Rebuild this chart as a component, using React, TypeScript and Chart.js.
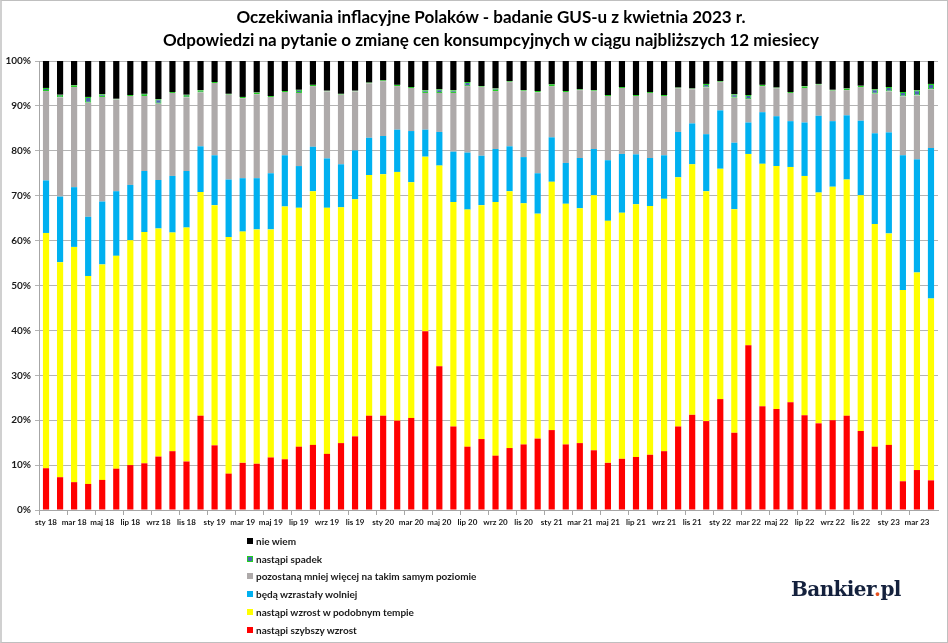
import React, { useEffect, useRef } from 'react';
import { Chart, registerables } from 'chart.js';

Chart.register(...registerables);

// kategorie: miesiące sty 18 - kwi 23
const months = [
  'sty 18', 'lut 18', 'mar 18', 'kwi 18', 'maj 18', 'cze 18', 'lip 18', 'sie 18', 'wrz 18', 'paź 18', 'lis 18', 'gru 18',
  'sty 19', 'lut 19', 'mar 19', 'kwi 19', 'maj 19', 'cze 19', 'lip 19', 'sie 19', 'wrz 19', 'paź 19', 'lis 19', 'gru 19',
  'sty 20', 'lut 20', 'mar 20', 'kwi 20', 'maj 20', 'cze 20', 'lip 20', 'sie 20', 'wrz 20', 'paź 20', 'lis 20', 'gru 20',
  'sty 21', 'lut 21', 'mar 21', 'kwi 21', 'maj 21', 'cze 21', 'lip 21', 'sie 21', 'wrz 21', 'paź 21', 'lis 21', 'gru 21',
  'sty 22', 'lut 22', 'mar 22', 'kwi 22', 'maj 22', 'cze 22', 'lip 22', 'sie 22', 'wrz 22', 'paź 22', 'lis 22', 'gru 22',
  'sty 23', 'lut 23', 'mar 23', 'kwi 23'
];

const szybszyWzrost = [
  9.3, 7.3, 6.2, 5.8, 6.7, 9.2, 10.0, 10.4, 11.9, 13.1, 10.8, 21.0,
  14.4, 8.1, 10.5, 10.3, 11.7, 11.3, 14.1, 14.5, 12.5, 14.9, 16.4, 21.0,
  21.0, 19.9, 20.5, 39.8, 32.0, 18.6, 14.1, 15.8, 12.1, 13.8, 14.6, 15.9,
  17.8, 14.6, 14.9, 13.3, 10.5, 11.4, 11.8, 12.3, 13.1, 18.6, 21.2, 19.8,
  24.7, 17.2, 36.7, 23.1, 22.5, 24.0, 21.1, 19.3, 20.0, 21.0, 17.6, 14.1,
  14.5, 6.4, 8.9, 6.6
];

const podobnyWzrost = [
  52.4, 47.9, 52.4, 46.3, 48.0, 47.4, 50.1, 51.5, 50.8, 48.7, 52.1, 49.8,
  53.5, 52.7, 51.5, 52.2, 50.8, 56.3, 53.2, 56.5, 54.8, 52.5, 52.8, 53.6,
  53.8, 55.4, 52.5, 38.9, 44.7, 50.0, 52.8, 52.1, 56.5, 57.2, 53.7, 50.1,
  55.3, 53.6, 52.3, 56.8, 53.9, 54.8, 56.3, 55.4, 56.2, 55.5, 55.8, 51.2,
  51.3, 49.8, 42.6, 54.0, 54.1, 52.4, 53.3, 51.4, 52.0, 52.6, 52.5, 49.6,
  47.1, 42.6, 44.0, 40.5
];

const wolniej = [
  11.7, 14.6, 13.3, 13.2, 14.0, 14.4, 12.3, 13.6, 10.8, 12.6, 12.6, 10.2,
  11.1, 12.8, 11.9, 11.4, 12.5, 11.4, 9.3, 9.9, 11.0, 9.6, 10.9, 8.3,
  8.5, 9.4, 11.4, 6.0, 7.5, 11.2, 12.7, 11.0, 11.8, 10.0, 10.3, 9.0,
  9.9, 9.1, 11.2, 10.3, 13.5, 13.1, 11.1, 10.7, 9.7, 10.1, 9.1, 12.7,
  13.0, 14.8, 7.0, 11.5, 11.1, 10.2, 11.9, 17.1, 14.6, 14.3, 16.6, 20.2,
  22.5, 30.0, 25.2, 33.5
];

const takiSam = [
  19.9, 22.1, 22.3, 25.4, 23.3, 20.4, 19.8, 16.7, 17.0, 18.5, 16.4, 12.0,
  16.1, 18.9, 17.8, 18.7, 17.0, 14.1, 16.3, 13.5, 14.9, 15.5, 13.1, 12.1,
  12.2, 9.7, 9.6, 8.2, 8.7, 13.1, 14.8, 15.3, 12.9, 14.3, 14.7, 18.0,
  11.4, 15.8, 15.1, 12.9, 14.3, 14.7, 13.0, 14.5, 13.2, 9.7, 7.6, 10.4,
  6.3, 10.0, 5.2, 5.8, 6.2, 6.3, 7.7, 6.9, 6.8, 5.6, 7.5, 8.8,
  9.1, 13.1, 14.2, 13.1
];

const spadek = [
  0.7, 0.6, 0.4, 1.3, 0.6, 0.2, 0.2, 0.5, 1.0, 0.2, 0.6, 0.5,
  0.2, 0.2, 0.3, 0.4, 0.2, 0.2, 0.7, 0.3, 0.2, 0.2, 0.2, 0.2,
  0.2, 0.3, 0.2, 0.6, 0.8, 0.6, 0.9, 0.2, 0.6, 0.2, 0.2, 0.3,
  0.4, 0.2, 0.2, 0.2, 0.2, 0.2, 0.2, 0.2, 0.2, 0.2, 0.2, 0.8,
  0.2, 0.8, 0.9, 0.3, 0.2, 0.2, 0.4, 0.2, 0.2, 0.4, 0.3, 1.0,
  1.0, 1.0, 1.2, 1.2
];

const nieWiem = [
  6.0, 7.5, 5.4, 8.0, 7.4, 8.4, 7.6, 7.3, 8.5, 6.9, 7.5, 6.5,
  4.8, 7.3, 8.0, 7.0, 7.8, 6.7, 6.4, 5.3, 6.6, 7.3, 6.6, 4.9,
  4.4, 5.3, 5.8, 6.5, 6.3, 6.5, 4.7, 5.6, 6.1, 4.5, 6.5, 6.7,
  5.2, 6.7, 6.3, 6.5, 7.6, 5.8, 7.6, 7.0, 7.6, 5.9, 6.2, 5.1,
  4.5, 7.4, 7.6, 5.3, 5.9, 7.0, 5.6, 5.1, 6.4, 6.1, 5.5, 6.3,
  5.8, 6.9, 6.5, 5.1
];

const FONT = 'Lato, "Open Sans", sans-serif';

// od dołu do góry stosu
const series = [
  { label: 'nastąpi szybszy wzrost', data: szybszyWzrost, color: '#FF0000', border: '#FF0000' },
  { label: 'nastąpi wzrost w podobnym tempie', data: podobnyWzrost, color: '#FFFF00', border: '#FFFF00' },
  { label: 'będą wzrastały wolniej', data: wolniej, color: '#00B0F0', border: '#00B0F0' },
  { label: 'pozostaną mniej więcej na takim samym poziomie', data: takiSam, color: '#AEAAAA', border: '#AEAAAA' },
  { label: 'nastąpi spadek', data: spadek, color: '#4A65B0', border: '#22D022' },
  { label: 'nie wiem', data: nieWiem, color: '#000000', border: '#000000' }
];

const App = () => {
  const canvasRef = useRef<HTMLCanvasElement>(null);

  useEffect(() => {
    const ctx = canvasRef.current?.getContext('2d');
    if (!ctx) return;

    const chart = new Chart(ctx, {
      type: 'bar',
      data: {
        labels: months,
        datasets: series.map((s) => ({
          label: s.label,
          data: s.data,
          backgroundColor: s.color,
          borderColor: s.border,
          borderWidth: s.border === s.color ? 0 : 1,
          borderSkipped: false,
          categoryPercentage: 1,
          barPercentage: 0.44
        }))
      },
      options: {
        responsive: false,
        animation: false,
        layout: { padding: { top: 61, right: 10, left: 0, bottom: 0 } },
        plugins: {
          legend: { display: false },
          title: { display: false },
          tooltip: { enabled: false }
        },
        scales: {
          x: {
            stacked: true,
            grid: {
              offset: true,
              drawOnChartArea: false,
              tickLength: 5,
              color: (c: any) => (c.index % 2 === 0 ? '#A6A6A6' : 'rgba(0,0,0,0)')
            },
            border: { color: '#A6A6A6' },
            ticks: {
              autoSkip: false,
              maxRotation: 0,
              minRotation: 0,
              padding: 3,
              color: '#1a1a1a',
              font: { family: FONT, size: 8, weight: 'bold' },
              callback: (_v: any, i: number) => (i % 2 === 0 ? months[i] : '')
            },
            afterFit: (s: any) => {
              s.height = 133;
            }
          },
          y: {
            stacked: true,
            min: 0,
            max: 100,
            ticks: {
              stepSize: 10,
              padding: 4,
              color: '#1a1a1a',
              font: { family: FONT, size: 10, weight: 'bold' },
              callback: (v: any) => v + '%'
            },
            grid: { color: '#B4B4B4', tickLength: 4 },
            border: { color: '#A6A6A6' },
            afterFit: (s: any) => {
              s.width = 39;
            }
          }
        }
      }
    });

    return () => {
      chart.destroy();
    };
  }, []);

  const legendItems = [...series].reverse();

  return (
    <div style={{ position: 'fixed', left: 0, top: 0, width: 948, height: 643, background: '#fff', fontFamily: FONT }}>
      <canvas ref={canvasRef} width={948} height={643} style={{ position: 'absolute', left: 0, top: 0 }} />
      <div style={{ position: 'absolute', left: 34, top: 5, width: 914, textAlign: 'center', fontWeight: 'bold', fontSize: 17, lineHeight: '23px', color: '#000' }}>
        <div>Oczekiwania inflacyjne Polaków - badanie GUS-u z kwietnia 2023 r.</div>
        <div>Odpowiedzi na pytanie o zmianę cen konsumpcyjnych w ciągu najbliższych 12 miesiecy</div>
      </div>
      {legendItems.map((s, i) => (
        <div key={s.label} style={{ position: 'absolute', left: 247, top: 532 + i * 17.7, height: 18, display: 'flex', alignItems: 'center', fontSize: 10, fontWeight: 'bold', color: '#1a1a1a', whiteSpace: 'nowrap' }}>
          <span style={{ display: 'inline-block', width: 6, height: 6, boxSizing: 'border-box', background: s.color, border: s.border !== s.color ? `1px solid ${s.border}` : 'none', marginRight: 3 }} />
          {s.label}
        </div>
      ))}
      <div style={{ position: 'absolute', left: 791, top: 577, fontFamily: '"DejaVu Serif", serif', fontWeight: 'bold', fontSize: 20, letterSpacing: -0.6, color: '#14213D', whiteSpace: 'nowrap' }}>
        Bankier<span style={{ color: '#E8501E' }}>.</span>pl
      </div>
      <div style={{ position: 'absolute', left: 0, top: 0, width: 948, height: 643, boxSizing: 'border-box', border: '1px solid #BFBFBF', borderLeft: '2px solid #D0D0D0', pointerEvents: 'none' }} />
    </div>
  );
};

export default App;
